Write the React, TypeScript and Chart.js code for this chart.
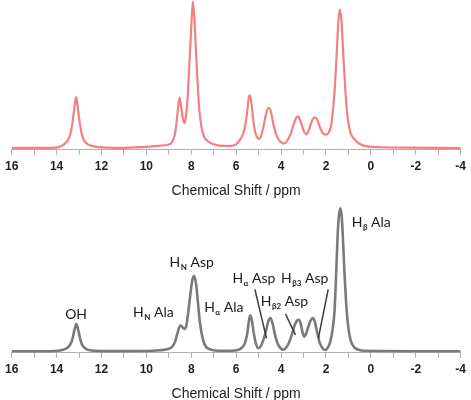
import React, { useEffect, useRef } from "react";
import { Chart, registerables } from "chart.js";

Chart.register(...registerables);

// Top spectrum (red)
const topPpm = [16, 15, 14, 13.9, 13.7, 13.5, 13.4, 13.3, 13.22, 13.13, 13.04, 12.96, 12.85, 12.75, 12.6, 12.4, 12, 11, 10, 9.5, 9.0, 8.9, 8.8, 8.72, 8.65, 8.58, 8.52, 8.46, 8.38, 8.3, 8.22, 8.15, 8.08, 8.0, 7.93, 7.86, 7.8, 7.73, 7.65, 7.55, 7.45, 7.35, 7.25, 7.1, 6.9, 6.6, 6.3, 6.0, 5.85, 5.7, 5.6, 5.5, 5.44, 5.39, 5.32, 5.24, 5.15, 5.05, 4.98, 4.88, 4.78, 4.68, 4.58, 4.52, 4.45, 4.35, 4.22, 4.1, 3.95, 3.85, 3.72, 3.58, 3.45, 3.34, 3.25, 3.15, 3.05, 2.95, 2.87, 2.78, 2.68, 2.58, 2.48, 2.38, 2.27, 2.15, 2.05, 1.95, 1.85, 1.76, 1.68, 1.6, 1.52, 1.45, 1.38, 1.31, 1.24, 1.16, 1.08, 1.0, 0.9, 0.8, 0.7, 0.6, 0.45, 0.3, 0.1, -0.5, -1.5, -4];
const topInt = [0.5, 0.6, 0.9, 1.5, 3.5, 8, 13, 24, 38, 50.7, 38, 24, 12, 7, 4, 2.3, 1.1, 0.7, 1.5, 2.5, 4, 5, 9, 15, 27, 42, 50, 43, 30, 25, 35, 55, 85, 120, 145, 128, 100, 70, 40, 22, 13, 9, 7, 5, 3.5, 2.5, 2.4, 4, 8, 14, 22, 38, 50, 52.4, 45, 28, 16, 10.5, 9.4, 13, 22, 33, 40, 40, 36, 25, 14, 8.5, 5.5, 5, 8, 14, 23, 30, 31.7, 28, 21, 15.5, 14, 17, 24, 29.5, 30.7, 28, 21, 15.5, 13.8, 14, 17, 24, 40, 62, 95, 125, 137.4, 126, 98, 66, 40, 25, 15, 11, 8.5, 6, 4, 2.8, 1.8, 1.2, 0.8, 0.5];

// Bottom spectrum (grey)
const botPpm = [16, 14.5, 13.8, 13.55, 13.4, 13.3, 13.22, 13.12, 13.02, 12.94, 12.84, 12.7, 12.5, 12, 10, 9.4, 9.0, 8.85, 8.72, 8.62, 8.53, 8.46, 8.38, 8.3, 8.22, 8.14, 8.05, 7.96, 7.87, 7.78, 7.7, 7.62, 7.52, 7.42, 7.3, 7.1, 6.8, 6.2, 5.9, 5.75, 5.6, 5.5, 5.43, 5.37, 5.3, 5.22, 5.12, 5.02, 4.92, 4.8, 4.68, 4.57, 4.47, 4.38, 4.27, 4.15, 4.02, 3.9, 3.78, 3.65, 3.52, 3.4, 3.28, 3.2, 3.12, 3.04, 2.97, 2.88, 2.78, 2.68, 2.58, 2.5, 2.4, 2.28, 2.15, 2.04, 1.92, 1.82, 1.72, 1.62, 1.55, 1.48, 1.42, 1.36, 1.3, 1.23, 1.17, 1.1, 1.02, 0.92, 0.82, 0.72, 0.55, 0.3, -4];
const botInt = [0.5, 0.5, 1.5, 3.5, 7, 12, 20, 27.3, 20, 12, 6, 3, 1.5, 0.7, 0.8, 1.5, 3, 5, 10, 18, 24.5, 26, 24, 22.5, 26, 38, 55, 70, 75, 66, 48, 30, 16, 8, 4, 2, 1, 1, 2, 4, 9, 19, 31, 36, 31, 19, 8, 3.5, 5, 11, 20, 30, 33.3, 28, 17, 8, 3.5, 2, 4, 9, 17, 26, 31, 31.7, 27, 19, 15, 18, 25, 31, 33.3, 30, 20, 9, 3.5, 1.8, 4, 9, 20, 40, 75, 115, 135, 141.7, 134, 105, 75, 48, 27, 13, 7, 4, 2, 1, 0.5];

// Peak annotations (bottom spectrum)
const labelMain = ["OH", "H", "H", "H", "H", "H", "H", "H"];
const labelSub = ["", "N", "N", "α", "α", "β2", "β3", "β"];
const labelRest = ["", " Ala", " Asp", " Ala", " Asp", " Asp", " Asp", " Ala"];
const labelPpm = [13.13, 9.69, 7.98, 6.55, 5.21, 3.85, 2.95, -0.02];
const labelInt = [37.7, 39, 88.3, 44, 73.3, 50, 73.3, 128.3];

// Leader lines
const leaderFromPpm = [5.165, 3.8, 1.9];
const leaderFromInt = [61.7, 37.3, 61.7];
const leaderToPpm = [4.65, 3.36, 2.34];
const leaderToInt = [13.3, 16.7, 13.3];

const xTitle = "Chemical Shift / ppm";
const xMin = -4;
const xMax = 16;

const toPoints = (xs: number[], ys: number[]) => xs.map((x, i) => ({ x, y: ys[i] }));

const annotationPlugin = {
  id: "peakLabels",
  afterDatasetsDraw(chart: any) {
    const ctx = chart.ctx;
    const xs = chart.scales.x;
    const ys = chart.scales.y;
    ctx.save();
    ctx.strokeStyle = "#3a3a3a";
    ctx.lineWidth = 1.5;
    for (let i = 0; i < leaderFromPpm.length; i++) {
      ctx.beginPath();
      ctx.moveTo(xs.getPixelForValue(leaderFromPpm[i]), ys.getPixelForValue(leaderFromInt[i]));
      ctx.lineTo(xs.getPixelForValue(leaderToPpm[i]), ys.getPixelForValue(leaderToInt[i]));
      ctx.stroke();
    }
    const mainFont = "14px Lato, 'Open Sans', sans-serif";
    const subFont = "bold 8px Lato, 'Open Sans', sans-serif";
    ctx.fillStyle = "#1a1a1a";
    ctx.textBaseline = "alphabetic";
    ctx.textAlign = "left";
    for (let i = 0; i < labelMain.length; i++) {
      ctx.font = mainFont;
      const w1 = ctx.measureText(labelMain[i]).width;
      const w3 = ctx.measureText(labelRest[i]).width;
      ctx.font = subFont;
      const w2 = labelSub[i] ? ctx.measureText(labelSub[i]).width + 0.5 : 0;
      const total = w1 + w2 + w3;
      const cx = xs.getPixelForValue(labelPpm[i]);
      const cy = ys.getPixelForValue(labelInt[i]);
      const base = cy + 5;
      let x = cx - total / 2;
      ctx.font = mainFont;
      ctx.fillText(labelMain[i], x, base);
      x += w1;
      if (labelSub[i]) {
        ctx.font = subFont;
        ctx.fillText(labelSub[i], x + 0.5, base + 3);
        x += w2;
      }
      ctx.font = mainFont;
      ctx.fillText(labelRest[i], x, base);
    }
    ctx.restore();
  },
};

function makeOptions(yMin: number, yMax: number) {
  return {
    responsive: false,
    animation: false as const,
    layout: { padding: { left: 7.5, right: 8, top: 0, bottom: 0 } },
    plugins: { legend: { display: false }, tooltip: { enabled: false } },
    elements: { point: { radius: 0 } },
    scales: {
      x: {
        type: "linear" as const,
        reverse: true,
        min: xMin,
        max: xMax,
        border: { display: true, color: "#b0b0b0", width: 1 },
        grid: { display: true, drawOnChartArea: false, drawTicks: true, tickLength: 5, color: "#b0b0b0" },
        ticks: {
          stepSize: 1,
          autoSkip: false,
          maxRotation: 0,
          padding: 5,
          color: "#222",
          font: { family: "'Liberation Sans', Arial, sans-serif", size: 12, weight: "bold" as const },
          callback: (v: any) => (Number(v) % 2 === 0 ? String(v) : ""),
        },
        title: {
          display: true,
          text: xTitle,
          color: "#222",
          font: { family: "'Liberation Sans', Arial, sans-serif", size: 14 },
          padding: { top: 4, bottom: 0 },
        },
      },
      y: { display: false, min: yMin, max: yMax },
    },
  };
}

export default function App() {
  const topRef = useRef<HTMLCanvasElement>(null);
  const botRef = useRef<HTMLCanvasElement>(null);

  useEffect(() => {
    const top = new Chart(topRef.current!, {
      type: "line",
      data: {
        datasets: [
          {
            data: toPoints(topPpm, topInt),
            borderColor: "rgb(242,128,128)",
            borderWidth: 2.2,
            cubicInterpolationMode: "monotone",
            fill: false,
          },
          {
            data: toPoints(topPpm, topInt),
            borderColor: "rgb(251,190,190)",
            borderWidth: 0.8,
            cubicInterpolationMode: "monotone",
            fill: false,
          },
        ],
      },
      options: makeOptions(-1.3, 146.7) as any,
    });
    const bot = new Chart(botRef.current!, {
      type: "line",
      data: {
        datasets: [
          {
            data: toPoints(botPpm, botInt),
            borderColor: "#7a7a7a",
            borderWidth: 2.6,
            cubicInterpolationMode: "monotone",
            fill: false,
          },
          {
            data: toPoints(botPpm, botInt),
            borderColor: "#dadada",
            borderWidth: 1.2,
            cubicInterpolationMode: "monotone",
            fill: false,
          },
        ],
      },
      options: makeOptions(-1, 150) as any,
      plugins: [annotationPlugin],
    });
    return () => {
      top.destroy();
      bot.destroy();
    };
  }, []);

  return (
    <div style={{ position: "fixed", left: 0, top: 0, width: 471, height: 400, background: "#fff", overflow: "hidden" }}>
      <canvas ref={topRef} width={471} height={200} style={{ position: "absolute", left: 0, top: 0 }} />
      <canvas ref={botRef} width={471} height={203} style={{ position: "absolute", left: 0, top: 200 }} />
    </div>
  );
}
